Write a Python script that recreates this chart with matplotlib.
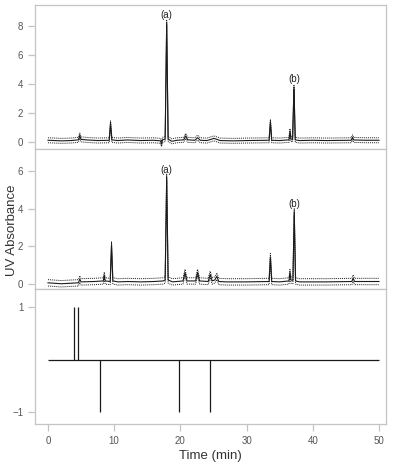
import matplotlib

matplotlib.use("Agg")
import matplotlib.pyplot as plt
import numpy as np

plt.rcParams["font.family"] = ["Liberation Sans", "DejaVu Sans"]

# --- chromatogram 1 (top panel) ---
time_a = [0, 2, 3.5, 4.6, 4.8, 5.0, 6, 7.5, 9.25, 9.45, 9.65, 10.5, 12, 14, 16,
          17.0, 17.15, 17.3, 17.7, 17.93, 18.15, 18.7, 19.5, 20.5, 20.8, 21.1,
          22.2, 22.6, 23.0, 24, 25.1, 26, 28, 30, 33.4, 33.6, 33.8, 35, 36.4,
          36.56, 36.7, 36.95, 37.16, 37.35, 38, 40, 42, 45.8, 46.0, 46.2, 48, 50]
signal_a = [0.12, 0.08, 0.1, 0.15, 0.45, 0.18, 0.14, 0.1, 0.12, 1.28, 0.15, 0.1,
            0.14, 0.1, 0.12, 0.08, -0.15, 0.15, 0.2, 8.19, 0.2, 0.05, 0.12, 0.15,
            0.42, 0.15, 0.12, 0.3, 0.12, 0.1, 0.25, 0.1, 0.08, 0.1, 0.12, 1.39,
            0.12, 0.1, 0.15, 0.75, 0.2, 0.18, 3.76, 0.15, 0.1, 0.12, 0.1, 0.12,
            0.32, 0.14, 0.12, 0.12]

# --- chromatogram 2 (middle panel) ---
time_b = [0, 2, 4.6, 4.8, 5.0, 7, 8.35, 8.5, 8.65, 9.4, 9.6, 9.8, 10.6, 12,
          14, 16, 17.4, 17.7, 17.93, 18.15, 18.8, 20.4, 20.7, 21.0, 22.3, 22.6,
          22.9, 24.2, 24.5, 24.8, 25.2, 25.5, 25.8, 27, 30, 33.4, 33.6, 33.8,
          35, 36.4, 36.55, 36.7, 37.0, 37.2, 37.4, 38, 42, 45.9, 46.1, 46.3, 48, 50]
signal_b = [0.05, 0.0, 0.05, 0.25, 0.1, 0.12, 0.15, 0.45, 0.15, 0.12, 2.07,
            0.15, 0.1, 0.12, 0.1, 0.12, 0.15, 0.2, 5.68, 0.2, 0.1, 0.15, 0.6,
            0.15, 0.15, 0.6, 0.15, 0.12, 0.5, 0.15, 0.2, 0.4, 0.12, 0.1, 0.1,
            0.12, 1.44, 0.12, 0.1, 0.15, 0.6, 0.2, 0.18, 3.84, 0.15, 0.1, 0.1,
            0.12, 0.3, 0.12, 0.12, 0.12]

band = 0.17  # half width of the dotted envelope

# --- gradient events (bottom panel) ---
event_up = [3.93, 4.58]
event_down = [7.85, 19.8, 24.4]

peak_labels = ["(a)", "(b)"]
peak_times_a = [17.93, 37.16]
peak_heights_a = [8.19, 3.76]
peak_times_b = [17.93, 37.2]
peak_heights_b = [5.68, 3.84]

x_ticks = [0, 10, 20, 30, 40, 50]

line_c = "#1a1a1a"
frame_c = "#c4c4c4"
tick_c = "#555555"

fig = plt.figure(figsize=(3.95, 4.70), dpi=100)
left, width = 35 / 395, 351 / 395
tops = [5, 149, 289]
bottoms = [149, 289, 424]
axes = []
for top, bot in zip(tops, bottoms):
    ax = fig.add_axes([left, 1 - bot / 470, width, (bot - top) / 470])
    axes.append(ax)

for ax, t, s, pt, ph in [
    (axes[0], time_a, signal_a, peak_times_a, peak_heights_a),
    (axes[1], time_b, signal_b, peak_times_b, peak_heights_b),
]:
    t = np.array(t)
    s = np.array(s)
    ax.plot(t, s + band, color=line_c, lw=0.7, ls=(0, (1, 1)))
    ax.plot(t, s - band, color=line_c, lw=0.7, ls=(0, (1, 1)))
    ax.plot(t, s, color=line_c, lw=0.8)
    for lab, x, y in zip(peak_labels, pt, ph):
        ax.annotate(lab, xy=(x, y), xytext=(0, 2), textcoords="offset points",
                    ha="center", va="bottom", fontsize=7, color="#222222")

ax3 = axes[2]
ax3.hlines(0, 0, 50, color=line_c, lw=0.9)
ax3.vlines(event_up, 0, 1, color=line_c, lw=0.9)
ax3.vlines(event_down, -1, 0, color=line_c, lw=0.9)

axes[0].set_ylim(-0.48, 9.41)
axes[0].set_yticks([0, 2, 4, 6, 8])
axes[1].set_ylim(-0.28, 7.19)
axes[1].set_yticks([0, 2, 4, 6])
ax3.set_ylim(-1.22, 1.35)
ax3.set_yticks([-1, 1])

for i, ax in enumerate(axes):
    ax.set_xlim(-1.96, 51.06)
    ax.set_xticks(x_ticks)
    for sp in ax.spines.values():
        sp.set_color(frame_c)
        sp.set_linewidth(0.9)
    ax.tick_params(colors=frame_c, labelcolor=tick_c, labelsize=7, length=5,
                   width=0.9, direction="out")
    if i < 2:
        ax.tick_params(axis="x", labelbottom=False)

ax3.set_xlabel("Time (min)", fontsize=9.5, color="#333333", labelpad=3)
fig.text(12 / 395, 1 - 230 / 470, "UV Absorbance", rotation=90, fontsize=9.5,
         color="#333333", ha="center", va="center")

fig.savefig("out.png", dpi=100)
